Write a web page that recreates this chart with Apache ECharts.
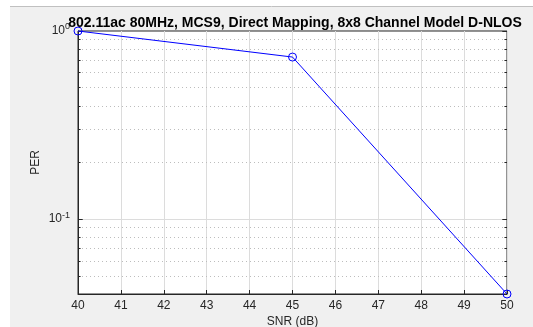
<!DOCTYPE html>
<html><head><meta charset="utf-8">
<script src="https://cdn.jsdelivr.net/npm/echarts@6/dist/echarts.min.js"></script>
<style>html,body{margin:0;padding:0;background:#fff}#c{width:533px;height:327px}</style>
</head><body><div id="c"></div>
<script>
const snr = [40, 45, 50];
const per = [1.0, 0.727, 0.04];
const xTicks = [40,41,42,43,44,45,46,47,48,49,50];
const yMajor = [0.1];
const yMinor = [0.05,0.06,0.07,0.08,0.09,0.2,0.3,0.4,0.5,0.6,0.7,0.8,0.9];
const titleText = '802.11ac 80MHz, MCS9, Direct Mapping, 8x8 Channel Model D-NLOS';

const chart = echarts.init(document.getElementById('c'));
const axisCol = '#262626';
const gridL = 78, gridR = 26, gridT = 31, gridB = 33;

const markData = [];
yMajor.forEach(v => markData.push({yAxis: v, lineStyle: {type: 'solid', color: '#dcdcdc', width: 1}}));
yMinor.forEach(v => markData.push({yAxis: v, lineStyle: {type: [1, 3], color: '#bdbdbd', width: 1}}));
const tickSegs = [];
yMajor.concat([1]).forEach(v => {
  tickSegs.push([{coord: [40, v]}, {coord: [40.11, v]}]);
  tickSegs.push([{coord: [50, v]}, {coord: [49.89, v]}]);
});
yMinor.forEach(v => {
  tickSegs.push([{coord: [40, v]}, {coord: [40.06, v]}]);
  tickSegs.push([{coord: [50, v]}, {coord: [49.94, v]}]);
});

chart.setOption({
  animation: false,
  backgroundColor: '#ffffff',
  graphic: [
    {type: 'rect', shape: {x: 10, y: 7, width: 523, height: 320}, style: {fill: '#f0f0f0'}, z: -10},
    {type: 'line', shape: {x1: 10, y1: 6.5, x2: 533, y2: 6.5}, style: {stroke: '#c0c0c0', lineWidth: 1}, z: -10}
  ],
  title: {
    text: titleText, left: 290, top: 11, textAlign: 'center',
    textStyle: {fontFamily: 'Liberation Sans', fontSize: 14, fontWeight: 'bold', color: '#000'}
  },
  grid: {left: gridL, right: gridR, top: gridT, bottom: gridB, show: true, containLabel: false,
    outerBoundsMode: 'none',
    backgroundColor: '#ffffff', borderColor: axisCol, borderWidth: 1},
  xAxis: {
    type: 'value', min: 40, max: 50, interval: 1,
    name: 'SNR (dB)', nameLocation: 'middle', nameGap: 22, nameMoveOverlap: false,
    nameTextStyle: {fontFamily: 'Liberation Sans', fontSize: 12, color: axisCol},
    axisLine: {lineStyle: {color: axisCol}},
    axisTick: {inside: true, length: 4, lineStyle: {color: axisCol}},
    axisLabel: {fontFamily: 'Liberation Sans', fontSize: 12, color: axisCol, margin: 6},
    splitLine: {show: true, lineStyle: {color: '#dcdcdc', width: 1}}
  },
  yAxis: {
    type: 'log', logBase: 10, min: 0.04, max: 1,
    name: 'PER', nameLocation: 'middle', nameGap: 36, nameMoveOverlap: false,
    nameTextStyle: {fontFamily: 'Liberation Sans', fontSize: 12, color: axisCol},
    axisLine: {lineStyle: {color: axisCol}},
    axisTick: {show: false},
    splitLine: {show: false},
    axisLabel: {
      fontFamily: 'Liberation Sans', fontSize: 12, color: axisCol, margin: 8,
      formatter: function (v) {
        const e = Math.log10(v);
        if (Math.abs(e - Math.round(e)) > 1e-6) return '';
        return '{b|10}{s|' + Math.round(e) + '}';
      },
      rich: {
        b: {fontFamily: 'Liberation Sans', fontSize: 12, color: axisCol},
        s: {fontFamily: 'Liberation Sans', fontSize: 9, color: axisCol, verticalAlign: 'bottom', padding: [0, 0, 8, 0]}
      }
    }
  },
  series: [
    {
      type: 'line', data: [], silent: true,
      markLine: {silent: true, symbol: 'none', label: {show: false}, data: markData, animation: false}
    },
    {
      type: 'line', data: [], silent: true,
      markLine: {silent: true, symbol: 'none', label: {show: false},
        lineStyle: {type: 'solid', color: axisCol, width: 1}, data: tickSegs, animation: false}
    },
    {
      type: 'line', data: snr.map((x, i) => [x, per[i]]),
      symbol: 'circle', symbolSize: 8, showSymbol: true, clip: false,
      lineStyle: {color: '#0000ff', width: 1},
      itemStyle: {color: 'rgba(0,0,0,0)', borderColor: '#0000ff', borderWidth: 1},
      z: 5
    }
  ]
});
</script></body></html>
